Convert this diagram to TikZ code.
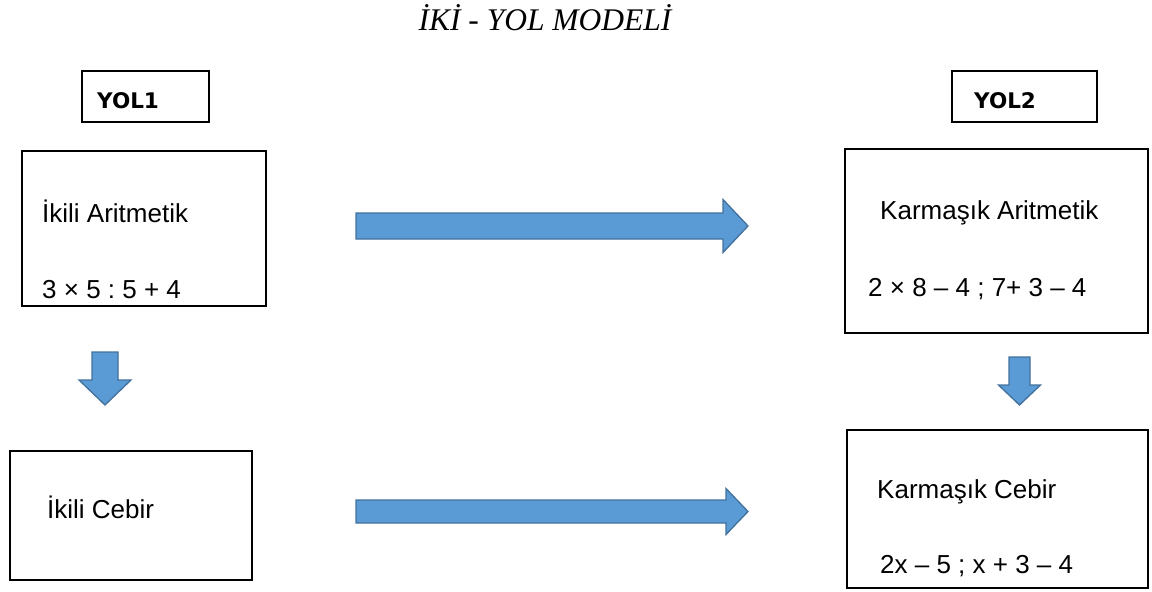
\documentclass[tikz,border=0pt]{standalone}
\usepackage{fontspec}
\setmainfont{Liberation Sans}
\newfontfamily\titlefont{Liberation Serif}
\newfontfamily\yolfont{DejaVu Sans}
\usetikzlibrary{calc}
\definecolor{arrfill}{HTML}{5B9BD5}
\definecolor{arrdraw}{HTML}{41719C}
\newcommand\hblock[5]{%
  \draw[blk] ($(#1)+(0,-#3)$) -- ($(#2)+(-#5,-#3)$) -- ($(#2)+(-#5,-#4)$) -- (#2)
    -- ($(#2)+(-#5,#4)$) -- ($(#2)+(-#5,#3)$) -- ($(#1)+(0,#3)$) -- cycle;}
\newcommand\vblock[5]{%
  \draw[blk] ($(#1)+(-#3,0)$) -- ($(#2)+(-#3,-#5)$) -- ($(#2)+(-#4,-#5)$) -- (#2)
    -- ($(#2)+(#4,-#5)$) -- ($(#2)+(#3,-#5)$) -- ($(#1)+(#3,0)$) -- cycle;}
\frenchspacing
\begin{document}
\begin{tikzpicture}[x=1pt,y=-1pt,
  box/.style={draw=black, line width=1.3pt, inner sep=0pt},
  txt/.style={anchor=base west, inner sep=0pt, font=\fontsize{26}{30}\selectfont},
  yol/.style={anchor=base west, inner sep=0pt, font=\yolfont\bfseries\fontsize{21.5}{25}\selectfont},
  blk/.style={fill=arrfill, draw=arrdraw, line width=1.3pt, line join=miter}]
\useasboundingbox (0,0) rectangle (1152,592);

% title
\node[anchor=base, inner sep=0pt, font=\titlefont\itshape\fontsize{31.5}{36}\selectfont] (title) at (545,30)
  {İKİ - YOL MODELİ};

% label boxes
\node[box, minimum width=127pt, minimum height=51pt] (y1) at (145.5,96.5) {};
\node[box, minimum width=145pt, minimum height=51pt] (y2) at (1024.5,96.5) {};
\node[yol] (y1t) at (97,108) {YOL1};
\node[yol] (y2t) at (974,108) {YOL2};

% main boxes
\node[box, minimum width=244pt, minimum height=155pt] (b1) at (144,228.5) {};
\node[box, minimum width=303pt, minimum height=184pt] (b2) at (996.5,241) {};
\node[box, minimum width=242pt, minimum height=129pt] (b3) at (131,515.5) {};
\node[box, minimum width=301pt, minimum height=158pt] (b4) at (997.5,509) {};

\node[txt] (b1a) at (42,222) {İkili Aritmetik};
\node[txt] (b1b) at (42,298) {3 × 5 : 5 + 4};
\node[txt] (b2a) at (880,219) {Karmaşık Aritmetik};
\node[txt] (b2b) at (868,296) {2 × 8 – 4 ; 7+ 3 – 4};
\node[txt] (b3a) at (47,518) {İkili Cebir};
\node[txt] (b4a) at (877,498) {Karmaşık Cebir};
\node[txt] (b4b) at (880,573) {2x – 5 ; x + 3 – 4};

% block arrows
\coordinate (a1s) at (356,226);
\coordinate (a1t) at (748,226);
\coordinate (a2s) at (356,511.5);
\coordinate (a2t) at (748,511.5);
\coordinate (a3s) at (105,352);
\coordinate (a3t) at (105,405);
\coordinate (a4s) at (1019.5,357);
\coordinate (a4t) at (1019.5,405);
\hblock{a1s}{a1t}{13}{26.5}{25}
\hblock{a2s}{a2t}{11.5}{23}{22}
\vblock{a3s}{a3t}{13}{26}{25}
\vblock{a4s}{a4t}{10.5}{21}{20}
\end{tikzpicture}
\end{document}
